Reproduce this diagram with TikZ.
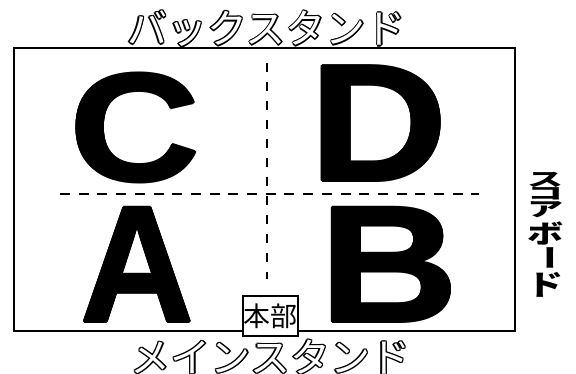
\documentclass[tikz,border=0pt]{standalone}
\usepackage{fontspec}
\usepackage{graphicx}
\setmainfont{Liberation Sans}
\newfontfamily\jp{Noto Sans CJK JP}
\newcommand\olt[1]{\leavevmode
  \rlap{\hspace{1.3pt}#1}\rlap{\hspace{-1.3pt}#1}%
  \rlap{\raisebox{1.3pt}{#1}}\rlap{\raisebox{-1.3pt}{#1}}%
  \rlap{\hspace{0.92pt}\raisebox{0.92pt}{#1}}\rlap{\hspace{-0.92pt}\raisebox{0.92pt}{#1}}%
  \rlap{\hspace{0.92pt}\raisebox{-0.92pt}{#1}}\rlap{\hspace{-0.92pt}\raisebox{-0.92pt}{#1}}%
  \textcolor{white}{#1}}
\newcommand\heavy[1]{\leavevmode
  \rlap{\hspace{1.2pt}#1}\rlap{\hspace{-1.2pt}#1}%
  \rlap{\raisebox{1.2pt}{#1}}\rlap{\raisebox{-1.2pt}{#1}}%
  \rlap{\hspace{0.85pt}\raisebox{0.85pt}{#1}}\rlap{\hspace{-0.85pt}\raisebox{0.85pt}{#1}}%
  \rlap{\hspace{0.85pt}\raisebox{-0.85pt}{#1}}\rlap{\hspace{-0.85pt}\raisebox{-0.85pt}{#1}}%
  #1}
\tikzset{
  bigletter/.style={inner sep=0pt, anchor=base west, font=\bfseries},
  guide/.style={line width=2.8pt, dash pattern=on 10pt off 8.7pt},
  title/.style={inner sep=0pt, font=\jp\fontsize{40}{40}\selectfont},
  sb/.style={inner sep=0pt, font=\jp\bfseries\fontsize{36}{36}\selectfont}
}
\begin{document}
\begin{tikzpicture}[x=1pt,y=-1pt]
\useasboundingbox (0,0) rectangle (576,374);
\node[draw, line width=2pt, minimum width=501pt, minimum height=283pt, inner sep=0pt, anchor=north west] (field) at (13,47) {};
% dashed guides
\coordinate (hl) at (60,194);
\coordinate (hr) at (479,194);
\coordinate (vt) at (267,63);
\coordinate (vb) at (267,279);
\draw[guide] (hl) -- (hr);
\draw[guide, line width=2.5pt, dash pattern=on 9pt off 10pt] (vt) -- (vb);
% letters
\node[bigletter] (C) at (69.3,181) {\scalebox{1.18}[1]{\fontsize{154}{154}\selectfont\heavy{C}}};
\node[bigletter] (D) at (309.4,181) {\scalebox{1.15}[1]{\fontsize{167}{167}\selectfont\heavy{D}}};
\node[bigletter] (A) at (80,322) {\scalebox{0.95}[1]{\fontsize{166}{166}\selectfont\heavy{A}}};
\node[bigletter] (B) at (319.3,322) {\scalebox{1.165}[1]{\fontsize{166}{166}\selectfont\heavy{B}}};
% headquarters
\node[draw, line width=2pt, fill=white, minimum width=55pt, minimum height=40pt, inner sep=0pt, font=\jp\fontsize{27}{27}\selectfont] (hq) at (270.5,316) {本部};
% titles
\node[title] (back) at (266.5,29) {\olt{バックスタンド}};
\node[title] (main) at (270.5,357) {\olt{メインスタンド}};
% score board
\node[sb] (s1) at (545,179.5) {\scalebox{1}[0.52]{ス}};
\node[sb] (s2) at (545,194) {\scalebox{1}[0.46]{コ}};
\node[sb] (s3) at (545,210) {\scalebox{1}[0.54]{ア}};
\node[sb] (s4) at (545,233.5) {\scalebox{1}[0.71]{ボ}};
\node[sb, rotate=-90] (s5) at (545,257.5) {\scalebox{0.69}[1]{ー}};
\node[sb] (s6) at (545,284.5) {\scalebox{1}[0.79]{ド}};
\end{tikzpicture}
\end{document}
